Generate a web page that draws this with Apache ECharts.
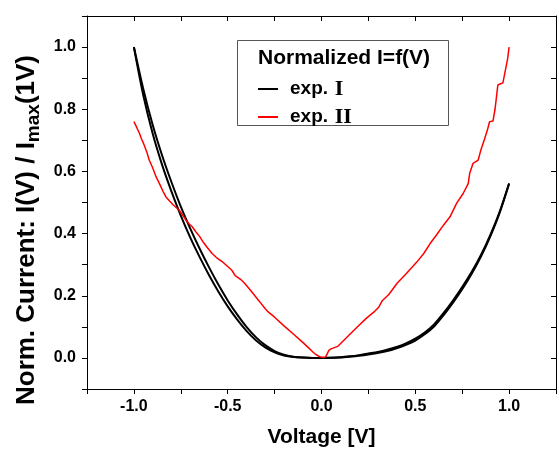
<!DOCTYPE html>
<html>
<head>
<meta charset="utf-8">
<script src="https://cdn.jsdelivr.net/npm/echarts@6/dist/echarts.min.js"></script>
<style>
html,body{margin:0;padding:0;background:#fff;}
#chart{width:559px;height:454px;}
</style>
</head>
<body>
<div id="chart"></div>
<script>
// ---- data ----
const blackVoltage = [-1.00,-0.95,-0.90,-0.85,-0.80,-0.75,-0.70,-0.65,-0.60,-0.55,-0.50,-0.45,-0.40,-0.35,-0.30,-0.25,-0.20,-0.15,-0.10,-0.05,0.00,0.05,0.10,0.15,0.20,0.25,0.30,0.35,0.40,0.45,0.50,0.55,0.60,0.65,0.70,0.75,0.80,0.85,0.90,0.95,1.00];
const expISweepA = [1.000,0.865,0.750,0.652,0.566,0.487,0.417,0.352,0.292,0.236,0.185,0.140,0.100,0.067,0.041,0.022,0.010,0.004,0.001,0.000,0.000,0.0003,0.002,0.005,0.009,0.014,0.019,0.026,0.035,0.047,0.062,0.082,0.108,0.144,0.184,0.228,0.276,0.331,0.396,0.471,0.561];
const expISweepB = [1.000,0.845,0.722,0.622,0.536,0.458,0.388,0.325,0.267,0.214,0.166,0.124,0.087,0.057,0.034,0.018,0.008,0.003,0.001,0.000,0.000,0.0002,0.0015,0.004,0.007,0.011,0.016,0.022,0.031,0.042,0.056,0.076,0.101,0.137,0.177,0.221,0.270,0.326,0.391,0.467,0.561];
const redVoltage = [-1.000,-0.990,-0.980,-0.970,-0.960,-0.950,-0.940,-0.930,-0.918,-0.900,-0.882,-0.860,-0.845,-0.829,-0.810,-0.790,-0.775,-0.759,-0.740,-0.720,-0.705,-0.689,-0.670,-0.650,-0.630,-0.610,-0.583,-0.560,-0.530,-0.500,-0.478,-0.460,-0.430,-0.410,-0.390,-0.372,-0.350,-0.330,-0.301,-0.284,-0.250,-0.200,-0.150,-0.100,-0.070,-0.046,-0.030,-0.020,-0.010,0.000,0.012,0.023,0.033,0.040,0.051,0.086,0.130,0.192,0.240,0.280,0.306,0.324,0.360,0.403,0.450,0.509,0.545,0.579,0.615,0.650,0.685,0.720,0.755,0.782,0.790,0.808,0.835,0.850,0.870,0.885,0.896,0.914,0.925,0.940,0.955,0.967,0.975,0.984,0.992,1.000];
const expIICurrent = [0.760,0.748,0.735,0.722,0.705,0.692,0.676,0.660,0.636,0.612,0.583,0.556,0.536,0.518,0.505,0.492,0.484,0.476,0.459,0.441,0.431,0.422,0.406,0.391,0.372,0.356,0.336,0.323,0.310,0.294,0.282,0.265,0.252,0.240,0.226,0.213,0.196,0.181,0.159,0.148,0.131,0.103,0.077,0.050,0.033,0.019,0.011,0.008,0.004,0.000,0.001,0.004,0.009,0.025,0.029,0.037,0.063,0.100,0.128,0.148,0.164,0.184,0.205,0.240,0.270,0.309,0.336,0.368,0.397,0.427,0.454,0.497,0.529,0.561,0.594,0.626,0.636,0.670,0.706,0.735,0.760,0.762,0.800,0.878,0.882,0.885,0.910,0.937,0.962,1.000];
const xTickLabels = [-1.0,-0.5,0.0,0.5,1.0];
const yTickLabels = [0.0,0.2,0.4,0.6,0.8,1.0];
const seriesNames = ['exp. I','exp. II'];

const pairs = (xs, ys) => xs.map((x, i) => [x, ys[i]]);
const FONT = 'Liberation Sans, Arial, sans-serif';
const SERIF = 'Liberation Serif, Times New Roman, serif';

const chart = echarts.init(document.getElementById('chart'), null, {renderer: 'canvas'});
const axisLineStyle = {color: '#000', width: 1};
const option = {
  animation: false,
  backgroundColor: '#fff',
  grid: {left: 87, right: -1, top: 16, bottom: 65},
  xAxis: [{
    type: 'value', position: 'bottom', min: -1.25, max: 1.25, interval: 0.25,
    axisLine: {show: true, onZero: false, lineStyle: axisLineStyle},
    axisTick: {show: true, inside: false, length: 5, lineStyle: axisLineStyle},
    splitLine: {show: false},
    axisLabel: {
      margin: 10, color: '#000', fontFamily: FONT, fontWeight: 'bold', fontSize: 16,
      showMinLabel: true, showMaxLabel: true,
      formatter: v => {
        const hit = xTickLabels.find(t => Math.abs(t - v) < 1e-6);
        return hit === undefined ? '' : hit.toFixed(1);
      }
    },
    name: 'Voltage [V]', nameLocation: 'middle', nameGap: 38,
    nameTextStyle: {color: '#000', fontFamily: FONT, fontWeight: 'bold', fontSize: 21}
  }, {
    type: 'value', position: 'top', min: -1.25, max: 1.25, interval: 0.25,
    axisLine: {show: true, onZero: false, lineStyle: axisLineStyle},
    axisTick: {show: true, inside: true, length: 5, lineStyle: axisLineStyle},
    axisLabel: {show: false}, splitLine: {show: false}
  }],
  yAxis: [{
    type: 'value', position: 'left', min: -0.1, max: 1.1, interval: 0.1,
    axisLine: {show: true, onZero: false, lineStyle: axisLineStyle},
    axisTick: {show: true, inside: false, length: 5, lineStyle: axisLineStyle},
    splitLine: {show: false},
    axisLabel: {
      margin: 11, color: '#000', fontFamily: FONT, fontWeight: 'bold', fontSize: 16,
      formatter: v => {
        const hit = yTickLabels.find(t => Math.abs(t - v) < 1e-6);
        return hit === undefined ? '' : hit.toFixed(1);
      }
    }
  }, {
    type: 'value', position: 'right', min: -0.1, max: 1.1, interval: 0.1,
    axisLine: {show: true, onZero: false, lineStyle: axisLineStyle},
    axisTick: {show: true, inside: true, length: 5, lineStyle: axisLineStyle},
    axisLabel: {show: false}, splitLine: {show: false}
  }],
  legend: {
    data: seriesNames,
    orient: 'vertical', left: 258, top: 78, padding: 0,
    itemWidth: 20, itemHeight: 2, itemGap: 6,
    icon: 'rect', selectedMode: false,
    textStyle: {
      color: '#000', lineHeight: 22, padding: [0, 0, 0, 7],
      rich: {
        a: {fontFamily: FONT, fontWeight: 'bold', fontSize: 19, color: '#000'},
        b: {fontFamily: SERIF, fontWeight: 'bold', fontSize: 22, color: '#000'}
      }
    },
    formatter: name => name === 'exp. I' ? '{a|exp.}  {b|I}' : '{a|exp.}  {b|II}'
  },
  graphic: [{
    type: 'rect', z: 1, shape: {x: 237.5, y: 40.5, width: 211, height: 85},
    style: {fill: '#fff', stroke: '#555', lineWidth: 1}
  }, {
    type: 'text', z: 3, x: 258, y: 58,
    style: {text: 'Normalized I=f(V)', fill: '#000', font: 'bold 21px ' + FONT, verticalAlign: 'middle', align: 'left'}
  }, {
    type: 'text', z: 3, x: 27, y: 230, rotation: Math.PI / 2,
    style: {
      text: '{m|Norm. Current: I(V) / I}{s|max}{m|(1V)}',
      align: 'center', verticalAlign: 'middle', fill: '#000',
      rich: {
        m: {fontFamily: FONT, fontWeight: 'bold', fontSize: 26, lineHeight: 32, fill: '#000'},
        s: {fontFamily: FONT, fontWeight: 'bold', fontSize: 19, lineHeight: 19, verticalAlign: 'bottom', fill: '#000'}
      }
    }
  }],
  series: [{
    name: 'exp. I', type: 'line', showSymbol: false, smooth: 0.3, z: 3,
    lineStyle: {color: '#000', width: 2}, itemStyle: {color: '#000'},
    data: pairs(blackVoltage, expISweepA)
  }, {
    name: 'exp. I', type: 'line', showSymbol: false, smooth: 0.3, z: 3,
    lineStyle: {color: '#000', width: 2}, itemStyle: {color: '#000'},
    data: pairs(blackVoltage, expISweepB)
  }, {
    name: 'exp. II', type: 'line', showSymbol: false, z: 4,
    lineStyle: {color: '#ff0000', width: 1.5}, itemStyle: {color: '#ff0000'},
    data: pairs(redVoltage, expIICurrent)
  }]
};
chart.setOption(option);
</script>
</body>
</html>
